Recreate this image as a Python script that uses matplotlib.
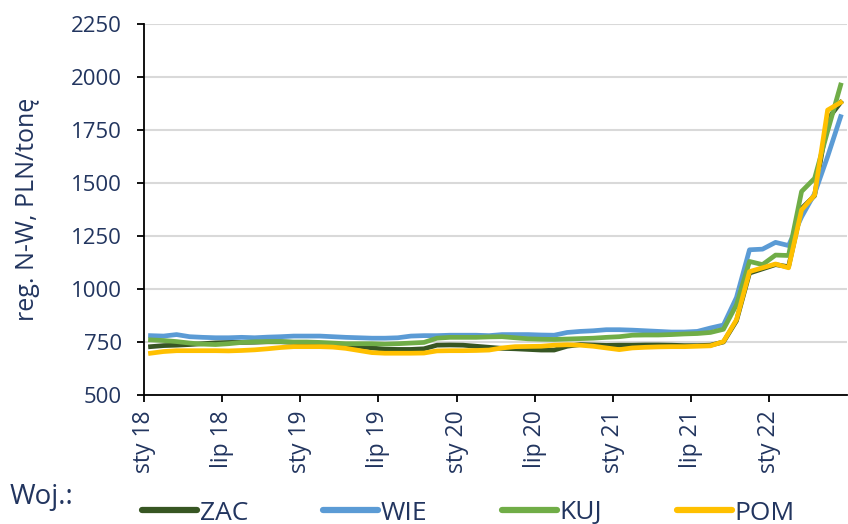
import matplotlib
matplotlib.use("Agg")
import matplotlib.pyplot as plt
import numpy as np

# miesiące: sty 2018 - cze 2022
miesiace = np.arange(54)
etykiety = ["sty 18", "lip 18", "sty 19", "lip 19", "sty 20",
            "lip 20", "sty 21", "lip 21", "sty 22"]

zac = [728, 733, 735, 738, 742, 746, 748, 748, 749, 751,
       751, 748, 745, 740, 738, 735, 730, 722, 716, 715,
       715, 718, 735, 736, 735, 730, 725, 720, 718, 715,
       712, 712, 730, 738, 736, 734, 735, 735, 736, 736,
       735, 733, 733, 735, 750, 850, 1075, 1095, 1115, 1105,
       1380, 1440, 1800, 1880]
wie = [780, 778, 785, 775, 772, 770, 770, 772, 770, 773,
       775, 778, 778, 778, 775, 772, 770, 768, 768, 770,
       778, 780, 780, 782, 782, 782, 780, 785, 785, 785,
       783, 782, 795, 800, 803, 808, 808, 806, 803, 800,
       797, 797, 800, 816, 830, 960, 1185, 1188, 1220, 1205,
       1340, 1450, 1625, 1813]
kuj = [760, 757, 752, 745, 740, 738, 742, 748, 751, 752,
       752, 750, 750, 748, 745, 742, 742, 742, 740, 742,
       745, 748, 768, 772, 772, 772, 774, 775, 770, 765,
       763, 762, 764, 766, 768, 772, 775, 782, 783, 783,
       785, 788, 790, 795, 810, 925, 1130, 1115, 1160, 1158,
       1460, 1522, 1745, 1962]
pom = [697, 705, 709, 709, 709, 709, 708, 710, 713, 718,
       724, 728, 728, 728, 726, 720, 710, 700, 697, 697,
       697, 698, 708, 709, 709, 710, 712, 722, 728, 729,
       730, 735, 737, 735, 730, 722, 714, 722, 725, 727,
       728, 728, 730, 732, 752, 855, 1082, 1100, 1118, 1100,
       1373, 1443, 1844, 1880]

kolor_tekstu = "#22355F"
plt.rcParams["font.family"] = ["Open Sans", "DejaVu Sans"]

fig = plt.figure(figsize=(8.48, 5.24), dpi=100)
ax = fig.add_axes([144/848, 1-395/524, 1-144/848-0.001, (395-24)/524])

x = miesiace + 0.5
ax.plot(x, zac, color="#375623", lw=3.4, label="ZAC", solid_joinstyle="round")
ax.plot(x, wie, color="#5B9BD5", lw=3.4, label="WIE", solid_joinstyle="round")
ax.plot(x, kuj, color="#70AD47", lw=3.4, label="KUJ", solid_joinstyle="round")
ax.plot(x, pom, color="#FFC000", lw=3.4, label="POM", solid_joinstyle="round")

ax.set_xlim(0, 54)
ax.set_ylim(500, 2250)
ax.set_yticks(range(500, 2251, 250))
ax.set_xticks(range(0, 49, 6))
ax.set_xticklabels(etykiety, rotation=90, va="top", ha="center")

ax.grid(axis="y", color="#D9D9D9", lw=1.5)
ax.set_axisbelow(True)
for s in ["top", "right"]:
    ax.spines[s].set_visible(False)
for s in ["left", "bottom"]:
    ax.spines[s].set_linewidth(1.3)
ax.tick_params(axis="y", length=5, width=1.3, pad=11, labelsize=16, labelcolor=kolor_tekstu)
ax.tick_params(axis="x", length=5, width=1.3, pad=6, labelsize=16.5, labelcolor=kolor_tekstu)

ax.set_ylabel("reg. N-W, PLN/tonę", fontsize=18, color=kolor_tekstu)
ax.yaxis.set_label_coords(-0.148, 0.50)

fig.text(10/848, 1-497/524, "Woj.:", fontsize=20, color=kolor_tekstu, va="center")
leg = fig.legend(loc="center left", bbox_to_anchor=(118/848, 1-513/524), ncol=4,
                 frameon=False, fontsize=19, handlelength=2.1, handletextpad=0.1,
                 columnspacing=2.82, labelcolor=kolor_tekstu)
for l in leg.get_lines():
    l.set_linewidth(4.5)
    l.set_solid_capstyle("round")

fig.savefig("out.png", dpi=100)
